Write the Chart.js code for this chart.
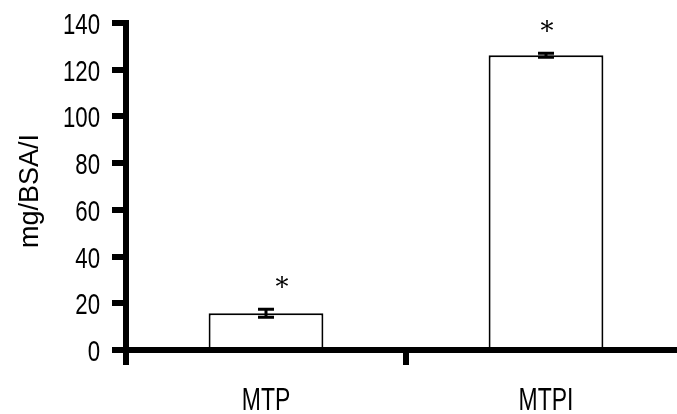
<!DOCTYPE html>
<html>
<head>
<meta charset="utf-8">
<script src="https://cdn.jsdelivr.net/npm/chart.js@4.4.1/dist/chart.umd.min.js"></script>
<style>
  html, body { margin: 0; padding: 0; background: #fff; overflow: hidden; }
  #wrap { position: relative; width: 700px; height: 414px; }
</style>
</head>
<body>
<div id="wrap"><canvas id="chart"></canvas></div>
<script>
const categories = ['MTP', 'MTPI'];
const meanValues = [15.7, 126.2];
const errorValues = [1.7, 0.9];
const markers = ['*', '*'];
const yTicks = [0, 20, 40, 60, 80, 100, 120, 140];
const yTitle = 'mg/BSA/I';

const sansFamily = '"Liberation Sans", Arial, sans-serif';

// the original uses a condensed face, so squeeze the labels horizontally
function squeezedText(ctx, text, x, y, size, align, squeeze) {
  ctx.save();
  ctx.translate(x, y);
  ctx.scale(squeeze, 1);
  ctx.font = size + 'px ' + sansFamily;
  ctx.fillStyle = '#000';
  ctx.textAlign = align;
  ctx.textBaseline = 'alphabetic';
  ctx.fillText(text, 0, 0);
  ctx.restore();
}

const labelPlugin = {
  id: 'labels',
  afterDraw(chart) {
    const ctx = chart.ctx;
    const x = chart.scales.x;
    const y = chart.scales.y;
    y.ticks.forEach(t => {
      squeezedText(ctx, String(t.value), 100, y.getPixelForValue(t.value) + 11, 30, 'right', 0.74);
    });
    categories.forEach((c, i) => {
      squeezedText(ctx, c, x.getPixelForValue(i), 410, 31, 'center', 0.74);
    });
    // rotated axis title
    ctx.save();
    ctx.translate(38, 191);
    ctx.rotate(-Math.PI / 2);
    ctx.font = '27px ' + sansFamily;
    ctx.fillStyle = '#000';
    ctx.textAlign = 'center';
    ctx.textBaseline = 'alphabetic';
    ctx.fillText(yTitle, 0, 0);
    ctx.restore();
  }
};

// error bars + significance stars on top of the bars
const errorBarPlugin = {
  id: 'errorBars',
  afterDatasetsDraw(chart) {
    const ctx = chart.ctx;
    const meta = chart.getDatasetMeta(0);
    const y = chart.scales.y;
    const starShift = [16, 1];
    ctx.save();
    meta.data.forEach((bar, i) => {
      const top = y.getPixelForValue(meanValues[i] + errorValues[i]);
      const bottom = y.getPixelForValue(meanValues[i] - errorValues[i]);
      const x = bar.x;
      ctx.strokeStyle = '#000';
      ctx.lineWidth = 3;
      ctx.beginPath();
      ctx.moveTo(x, top);
      ctx.lineTo(x, bottom);
      ctx.moveTo(x - 8, top);
      ctx.lineTo(x + 8, top);
      ctx.moveTo(x - 8, bottom);
      ctx.lineTo(x + 8, bottom);
      ctx.stroke();

      ctx.fillStyle = '#000';
      ctx.font = '26px "DejaVu Serif", "Liberation Serif", serif';
      ctx.textAlign = 'center';
      ctx.textBaseline = 'middle';
      ctx.fillText(markers[i], x + starShift[i], top - 20);
    });
    ctx.restore();
  }
};

new Chart(document.getElementById('chart').getContext('2d'), {
  type: 'bar',
  data: {
    labels: categories,
    datasets: [{
      data: meanValues,
      backgroundColor: '#fff',
      borderColor: '#000',
      borderWidth: 2,
      barPercentage: 0.41,
      categoryPercentage: 1
    }]
  },
  options: {
    responsive: true,
    maintainAspectRatio: false,
    animation: false,
    layout: { padding: { top: 23, right: 14, left: 0, bottom: 0 } },
    plugins: {
      legend: { display: false },
      tooltip: { enabled: false }
    },
    scales: {
      x: {
        type: 'category',
        offset: true,
        afterFit: (scale) => { scale.height = 64; },
        grid: {
          offset: true,
          drawOnChartArea: false,
          color: '#000',
          lineWidth: 6,
          tickLength: 15
        },
        border: { color: '#000', width: 6 },
        ticks: { display: false }
      },
      y: {
        min: 0,
        max: 140,
        afterFit: (scale) => { scale.width = 126; },
        afterBuildTicks: (scale) => { scale.ticks = yTicks.map(v => ({ value: v })); },
        grid: {
          drawOnChartArea: false,
          color: '#000',
          lineWidth: 6,
          tickLength: 14
        },
        border: { color: '#000', width: 6 },
        ticks: { display: false }
      }
    }
  },
  plugins: [errorBarPlugin, labelPlugin]
});
</script>
</body>
</html>
